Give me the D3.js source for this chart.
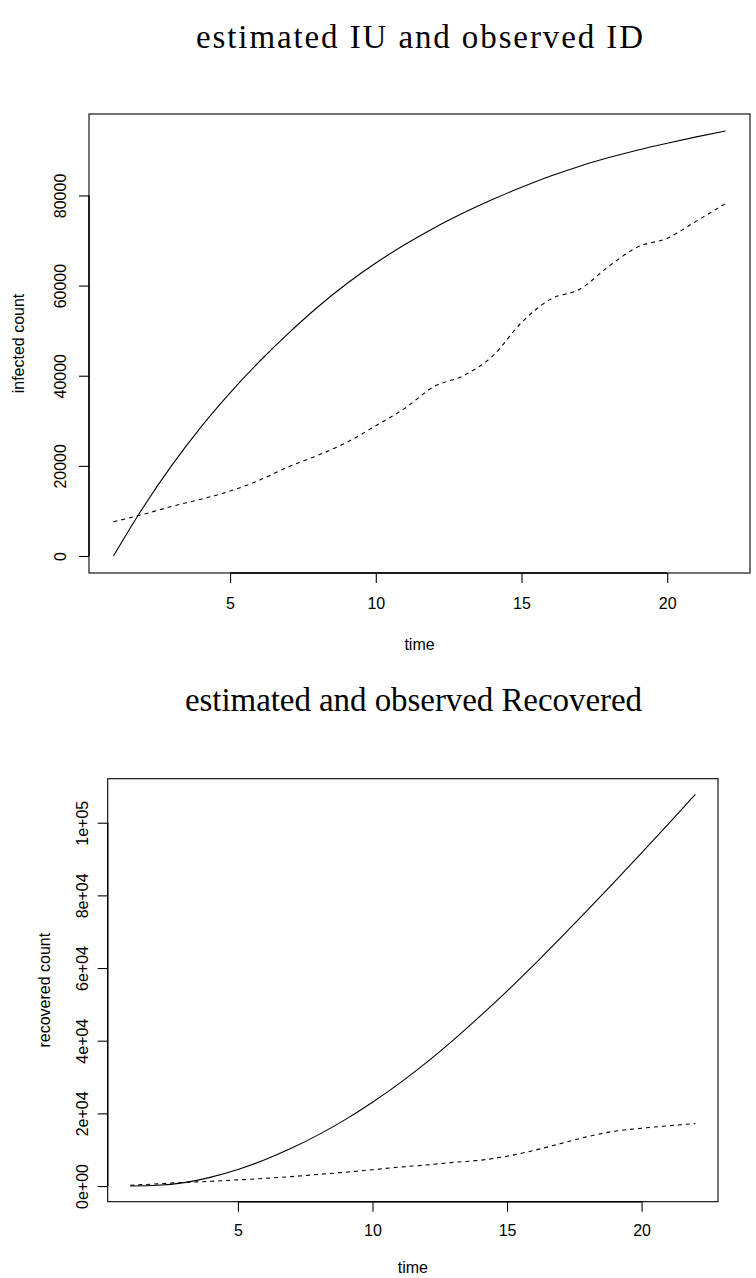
<!DOCTYPE html>
<html>
<head>
<meta charset="utf-8">
<script src="https://cdn.jsdelivr.net/npm/d3@7"></script>
<style>
  body { margin: 0; background: #fff; }
  .tick text, .axis-title { font-family: "Liberation Sans", Arial, sans-serif; }
  .main-title { font-family: "Liberation Serif", "Times New Roman", serif; }
</style>
</head>
<body>
<div id="chart"></div>
<script>
// time steps (days)
var time = [1, 2, 3, 4, 5, 6, 7, 8, 9, 10, 11, 12, 13, 14, 15, 16, 17, 18, 19, 20, 21, 22];

// infected: estimated IU (solid) and observed ID (dashed)
var estInfected = [0, 10600, 20100, 28600, 36200, 43100, 49400, 55200, 60400, 65000, 69100,
                   72800, 76100, 79100, 81800, 84300, 86500, 88400, 90100, 91600, 93000, 94300];
var obsInfected = [7600, 9200, 11000, 12600, 14400, 16800, 19800, 22300, 25200, 28900, 32800,
                   37600, 40000, 44300, 51800, 57000, 59200, 64300, 68600, 70500, 74300, 78200];

// recovered: estimated (solid) and observed (dashed)
var estRecovered = [0, 200, 950, 2450, 4550, 7250, 10450, 14150, 18350, 23050, 28250,
                    33950, 40150, 46750, 53650, 60850, 68350, 76000, 83800, 91700, 99700, 107800];
var obsRecovered = [200, 600, 1000, 1300, 1700, 2100, 2600, 3200, 3800, 4500, 5200,
                    5800, 6500, 7100, 8200, 9800, 11700, 13600, 15100, 15900, 16600, 17200];

// tick values and labels
var xTicks = [5, 10, 15, 20];
var yTicksInfected = [0, 20000, 40000, 60000, 80000];
var yLabelsInfected = ["0", "20000", "40000", "60000", "80000"];
var yTicksRecovered = [0, 20000, 40000, 60000, 80000, 100000];
var yLabelsRecovered = ["0e+00", "2e+04", "4e+04", "6e+04", "8e+04", "1e+05"];

var svgWidth = 756;
var svgHeight = 1278;

var svg = d3.select("#chart")
  .append("svg")
  .attr("width", svgWidth)
  .attr("height", svgHeight);

// R-like extent with 4% padding
function padded(ext) {
  var p = (ext[1] - ext[0]) * 0.04;
  return [ext[0] - p, ext[1] + p];
}

function drawPanel(p) {
  var g = svg.append("g");

  var x = d3.scaleLinear()
    .domain(padded(d3.extent(time)))
    .range([p.left, p.right]);

  var y = d3.scaleLinear()
    .domain(padded(d3.extent(p.est.concat(p.obs))))
    .range([p.bottom, p.top]);

  // box
  g.append("rect")
    .attr("x", p.left)
    .attr("y", p.top)
    .attr("width", p.right - p.left)
    .attr("height", p.bottom - p.top)
    .attr("fill", "none")
    .attr("stroke", "#000")
    .attr("stroke-width", 1.1);

  // x axis
  var xAxis = g.append("g")
    .attr("transform", `translate(0, ${p.bottom})`)
    .call(d3.axisBottom(x).tickValues(xTicks).tickSize(10).tickPadding(p.xPad).tickFormat(d3.format("d")));
  xAxis.select(".domain").remove();
  xAxis.append("line")
    .attr("x1", x(xTicks[0])).attr("x2", x(xTicks[xTicks.length - 1]))
    .attr("stroke", "#000").attr("stroke-width", 1.4);
  xAxis.selectAll(".tick line").attr("stroke-width", 1.1);
  xAxis.selectAll(".tick text")
    .style("font-size", "16px")
    .attr("fill", "#000");

  // y axis
  var yAxis = g.append("g")
    .attr("transform", `translate(${p.left}, 0)`)
    .call(d3.axisLeft(y).tickValues(p.yTicks).tickSize(10).tickFormat((d, i) => p.yLabels[i]));
  yAxis.select(".domain").remove();
  yAxis.append("line")
    .attr("y1", y(p.yTicks[0])).attr("y2", y(p.yTicks[p.yTicks.length - 1]))
    .attr("stroke", "#000").attr("stroke-width", 1.4);
  yAxis.selectAll(".tick line").attr("stroke-width", 1.1);
  yAxis.selectAll(".tick text")
    .attr("x", null)
    .attr("transform", `translate(${-p.tickLabelOffset}, 0) rotate(-90)`)
    .attr("text-anchor", "middle")
    .attr("dy", "0")
    .style("font-size", "16px")
    .attr("fill", "#000");

  // lines
  var line = d3.line()
    .x((d, i) => x(time[i]))
    .y(d => y(d))
    .curve(d3.curveMonotoneX);

  g.append("path")
    .datum(p.est)
    .attr("d", line)
    .attr("fill", "none")
    .attr("stroke", "#000")
    .attr("stroke-width", 1.1);

  g.append("path")
    .datum(p.obs)
    .attr("d", line)
    .attr("fill", "none")
    .attr("stroke", "#000")
    .attr("stroke-width", 1.1)
    .attr("stroke-dasharray", "4,4");

  // titles
  g.append("text")
    .attr("class", "main-title")
    .attr("x", p.titleX)
    .attr("y", p.titleY)
    .attr("text-anchor", "middle")
    .attr("textLength", p.titleWidth)
    .attr("lengthAdjust", "spacing")
    .style("font-size", "33px")
    .text(p.title);

  g.append("text")
    .attr("class", "axis-title")
    .attr("x", (p.left + p.right) / 2)
    .attr("y", p.xTitleY)
    .attr("text-anchor", "middle")
    .style("font-size", "16px")
    .text("time");

  g.append("text")
    .attr("class", "axis-title")
    .attr("transform", `translate(${p.yTitleX}, ${(p.top + p.bottom) / 2}) rotate(-90)`)
    .attr("text-anchor", "middle")
    .style("font-size", "16px")
    .text(p.yTitle);
}

drawPanel({
  left: 89, right: 750, top: 114, bottom: 573,
  est: estInfected, obs: obsInfected,
  yTicks: yTicksInfected, yLabels: yLabelsInfected,
  tickLabelOffset: 23, xPad: 14.5,
  title: "estimated IU and observed ID", titleX: 419.5, titleY: 48, titleWidth: 447,
  xTitleY: 650, yTitleX: 24, yTitle: "infected count"
});

drawPanel({
  left: 107.7, right: 718, top: 778.7, bottom: 1201.7,
  est: estRecovered, obs: obsRecovered,
  yTicks: yTicksRecovered, yLabels: yLabelsRecovered,
  tickLabelOffset: 20, xPad: 13,
  title: "estimated and observed Recovered", titleX: 413.5, titleY: 711, titleWidth: 457,
  xTitleY: 1273, yTitleX: 50, yTitle: "recovered count"
});
</script>
</body>
</html>
